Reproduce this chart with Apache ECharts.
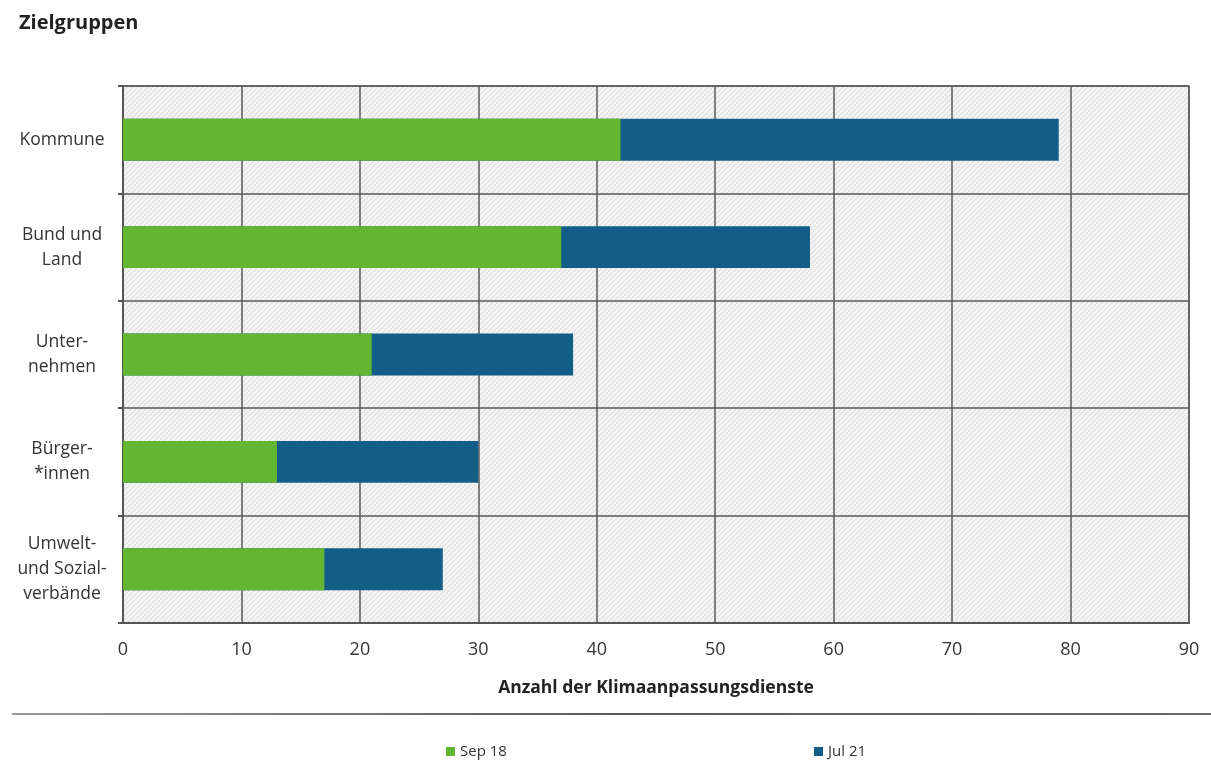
<!DOCTYPE html>
<html>
<head>
<meta charset="utf-8">
<title>Zielgruppen</title>
<script src="https://cdn.jsdelivr.net/npm/echarts@6/dist/echarts.min.js"></script>
<style>
  html, body { margin: 0; padding: 0; background: #ffffff; }
  #chart { width: 1211px; height: 782px; }
</style>
</head>
<body>
<div id="chart"></div>
<script>
// Zielgruppen der Klimaanpassungsdienste, Stand Sep 18 und Jul 21
const categories = ['Kommune', 'Bund und\nLand', 'Unter-\nnehmen', 'Bürger-\n*innen', 'Umwelt-\nund Sozial-\nverbände'];
const sep18 = [42, 37, 21, 13, 17];
const jul21 = [79, 58, 38, 30, 27];
const xTicks = { min: 0, max: 90, interval: 10 };

// light hatched fill for the plot area
function hatch() {
  const c = document.createElement('canvas');
  c.width = 5; c.height = 5;
  const g = c.getContext('2d');
  g.fillStyle = '#f3f3f3';
  g.fillRect(0, 0, 5, 5);
  g.strokeStyle = '#d9d9d9';
  g.lineWidth = 1;
  g.beginPath();
  g.moveTo(0, 5); g.lineTo(5, 0);
  g.moveTo(-1, 1); g.lineTo(1, -1);
  g.moveTo(4, 6); g.lineTo(6, 4);
  g.stroke();
  return { image: c, repeat: 'repeat' };
}

const chart = echarts.init(document.getElementById('chart'), null, { renderer: 'canvas' });
const font = '"Open Sans", Lato, sans-serif';

chart.setOption({
  animation: false,
  backgroundColor: '#ffffff',
  title: {
    text: 'Zielgruppen',
    left: 14, top: 8,
    textStyle: { fontFamily: font, fontSize: 20, fontWeight: 'bold', color: '#222' }
  },
  legend: [
    {
      data: ['Sep 18'], left: 441, top: 739,
      icon: 'rect', itemWidth: 9, itemHeight: 9, itemGap: 5,
      textStyle: { fontFamily: font, fontSize: 15, color: '#333' }
    },
    {
      data: ['Jul 21'], left: 809, top: 739,
      icon: 'rect', itemWidth: 9, itemHeight: 9, itemGap: 5,
      textStyle: { fontFamily: font, fontSize: 15, color: '#333' }
    }
  ],
  grid: {
    left: 123, right: 22, top: 86, bottom: 159,
    show: true, backgroundColor: hatch(),
    borderColor: '#6a6a6a', borderWidth: 1.5
  },
  xAxis: {
    type: 'value',
    min: xTicks.min, max: xTicks.max, interval: xTicks.interval,
    name: 'Anzahl der Klimaanpassungsdienste',
    nameLocation: 'middle', nameGap: 56,
    nameTextStyle: { fontFamily: font, fontSize: 17.5, fontWeight: 'bold', color: '#222' },
    axisLine: { show: true, lineStyle: { color: '#555', width: 2 } },
    axisTick: { show: false },
    axisLabel: { fontFamily: font, fontSize: 18, color: '#333', margin: 18 },
    splitLine: { show: true, lineStyle: { color: '#5a5a5a', width: 1.5 } }
  },
  yAxis: {
    type: 'category',
    data: categories,
    inverse: true,
    axisLine: { show: true, lineStyle: { color: '#555', width: 2 } },
    axisTick: { show: true, length: 5, lineStyle: { color: '#555', width: 2 } },
    axisLabel: {
      fontFamily: font, fontSize: 17.5, color: '#333',
      align: 'center', margin: 61, lineHeight: 25
    },
    splitLine: { show: true, lineStyle: { color: '#5a5a5a', width: 1.5 } }
  },
  series: [
    {
      name: 'Jul 21', type: 'bar', data: jul21,
      barWidth: '39%', barGap: '-100%',
      itemStyle: { color: '#135e89' }
    },
    {
      name: 'Sep 18', type: 'bar', data: sep18,
      barWidth: '39%', barGap: '-100%',
      itemStyle: { color: '#62b632' }
    }
  ],
  graphic: [
    {
      type: 'line', silent: true,
      shape: { x1: 12, y1: 714, x2: 1211, y2: 714 },
      style: {
        lineWidth: 2,
        stroke: new echarts.graphic.LinearGradient(0, 0, 1, 0, [
          { offset: 0, color: '#9a9a9a' },
          { offset: 0.5, color: '#5a5a5a' },
          { offset: 1, color: '#6a6a6a' }
        ])
      }
    }
  ]
});
</script>
</body>
</html>
